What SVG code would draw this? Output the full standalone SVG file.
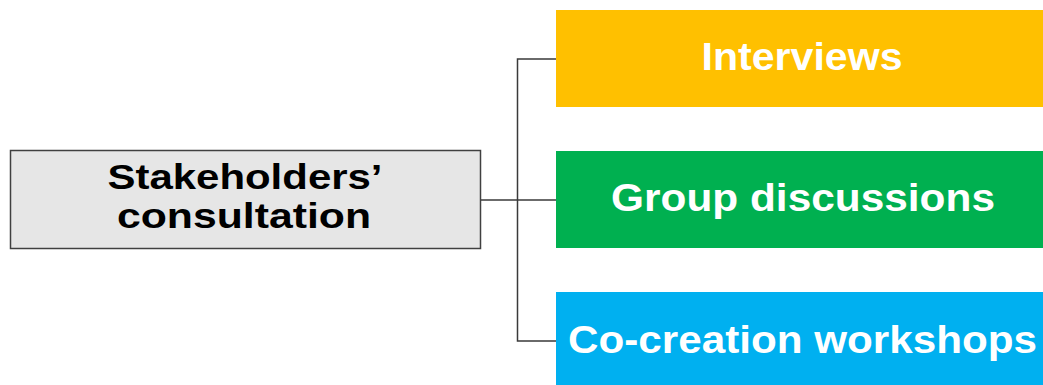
<svg xmlns="http://www.w3.org/2000/svg" width="1043" height="385" viewBox="0 0 1043 385">
<style>
.lbl{font-family:"Liberation Sans",Arial,sans-serif;font-weight:bold;text-anchor:middle}
.w{fill:#ffffff;font-size:38px}
.k{fill:#000000;font-size:35px}
.conn{fill:none;stroke:#3a3a3a;stroke-width:1.5}
</style>
<rect width="1043" height="385" fill="#ffffff"/>
<g id="connectors">
<path class="conn" d="M481,200 H556"/>
<path class="conn" d="M556,59 H517.5 V341 H556"/>
</g>
<g id="root">
<rect x="10.5" y="150.5" width="470" height="98" fill="#e6e6e6" stroke="#404040" stroke-width="1.5"/>
<text class="lbl k" x="245" y="189" textLength="275" lengthAdjust="spacingAndGlyphs">Stakeholders’</text>
<text class="lbl k" x="244" y="228" textLength="254" lengthAdjust="spacingAndGlyphs">consultation</text>
</g>
<g id="interviews">
<rect x="556" y="10" width="487" height="97" fill="#ffc000"/>
<text class="lbl w" x="802" y="70" textLength="201" lengthAdjust="spacingAndGlyphs">Interviews</text>
</g>
<g id="group">
<rect x="556" y="151" width="487" height="97" fill="#00b050"/>
<text class="lbl w" x="803" y="211" textLength="384" lengthAdjust="spacingAndGlyphs">Group discussions</text>
</g>
<g id="cocreation">
<rect x="556" y="292" width="487" height="93" fill="#00b0f0"/>
<text class="lbl w" x="802.5" y="352.5" textLength="469" lengthAdjust="spacingAndGlyphs">Co-creation workshops</text>
</g>
</svg>
